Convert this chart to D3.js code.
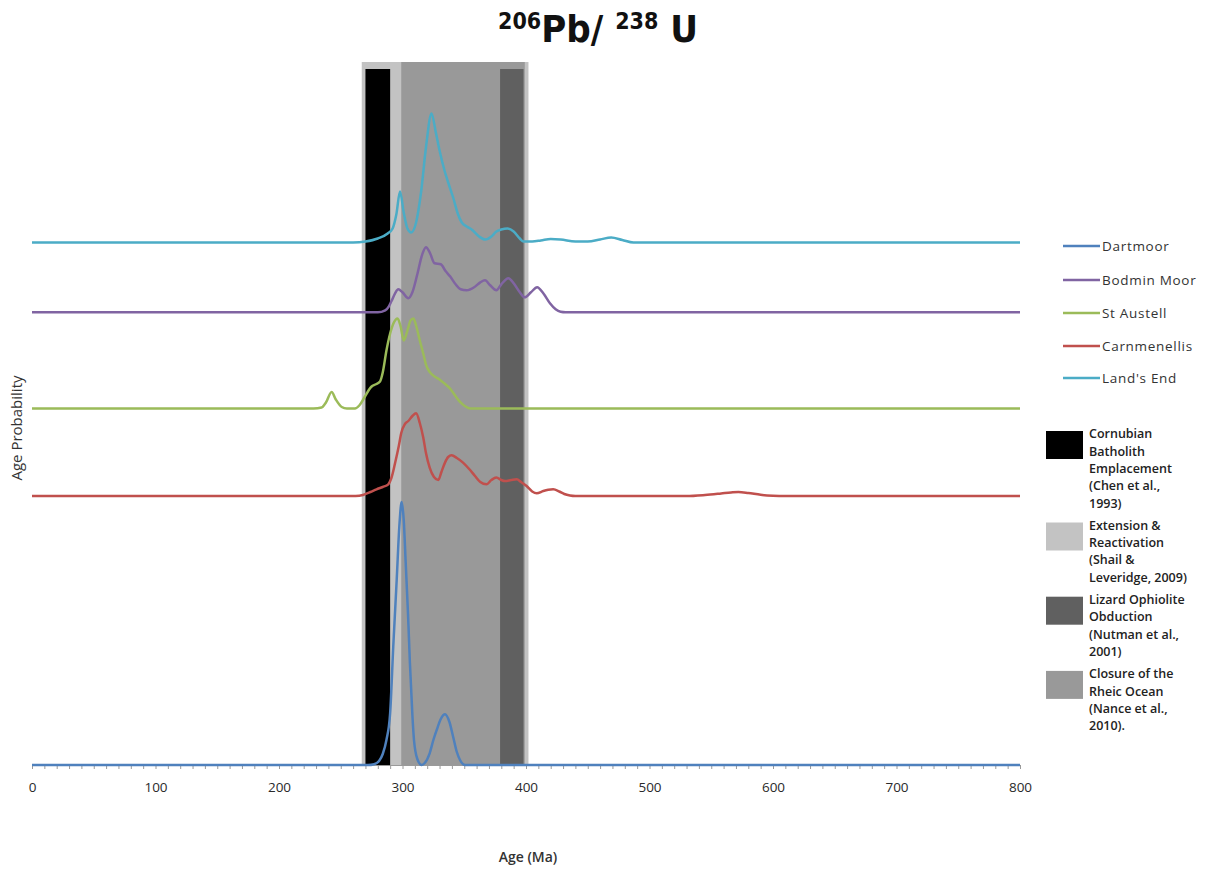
<!DOCTYPE html>
<html><head><meta charset="utf-8">
<script src="https://cdn.jsdelivr.net/npm/d3@7"></script>
<style>body{margin:0;background:#fff} svg{display:block}</style>
</head><body><svg id="c" width="1212" height="869"></svg>
<script>
// ---- data ----
const seriesNames = ["Dartmoor", "Bodmin Moor", "St Austell", "Carnmenellis", "Land's End"];
const seriesColors = ["#4f81bd", "#8064a2", "#9bbb59", "#c0504d", "#4bacc6"];
const seriesOffsets = [0, 45.27, 35.65, 26.9, 52.25];

const dartmoor = [[0,0],[272,0],[277,0.08],[281,0.4],[284,1.1],[287,2.5],[290,5.2],[292.5,11.8],[295.3,18.5],[297.5,24],[299.3,26.3],[301,24.5],[302.6,20.2],[304.5,15],[306,10.2],[308,5],[309.3,2.5],[312,0.6],[315.5,0],[318,0.2],[322,1.17],[325,2.5],[327.7,3.5],[331,4.6],[334.4,5.07],[338,4.3],[341,2.83],[344,1.3],[346.6,0.5],[350.6,0],[800,0]];

const bodminMoor = [[0,0],[280,0],[286,0.2],[289,0.6],[291,1.1],[294,1.9],[296.6,2.3],[300,2.0],[304.7,1.4],[308,2.0],[312,3.8],[316,5.8],[319,6.5],[322,6.0],[326,4.9],[331,4.8],[335,4.1],[338.5,3.6],[343,2.8],[347,2.3],[352,2.2],[358,2.5],[363,3.0],[366.8,3.2],[371,2.7],[376,2.2],[380,2.8],[385.7,3.4],[390,2.9],[395,2.0],[399,1.5],[404,2.0],[409,2.5],[414,1.9],[419.4,0.9],[424,0.3],[428,0.05],[432,0],[800,0]];

const stAustell = [[0,0],[228,0],[234.5,0.1],[238,0.6],[242.6,1.66],[246,0.9],[250.8,0.15],[255,0],[261.5,0],[265,0.3],[269.6,1.2],[273,1.9],[275,2.2],[278,2.4],[281.8,2.7],[284,3.6],[287,5.8],[290,7.5],[293,8.6],[296,9.0],[298.5,8.2],[301,6.8],[304,7.8],[306.5,8.8],[308.8,9.0],[311,8.3],[314,6.8],[316.8,5.5],[319,4.4],[322,3.66],[326,3.2],[330,2.9],[334,2.5],[338.5,2.0],[342,1.4],[346.6,0.66],[351,0.2],[355,0],[800,0]];

const carnmenellis = [[0,0],[262,0],[268,0.1],[274,0.4],[279,0.67],[284,0.9],[288.5,1.17],[291,1.8],[294,3.3],[297,5.0],[299,6.3],[302,7.2],[304.7,7.5],[308,8.0],[311,8.27],[314,7.3],[316.8,5.84],[319,4.3],[322,2.84],[325.5,1.9],[329,1.6],[331.5,2.4],[334.4,3.34],[337,3.9],[339.8,4.07],[344,3.8],[349,3.34],[354,2.7],[358.7,2.0],[363,1.4],[368,1.17],[372,1.6],[376,1.84],[380,1.6],[383,1.5],[388,1.6],[392.5,1.67],[396,1.4],[400.5,1.0],[405,0.45],[408.7,0.27],[414,0.5],[418,0.62],[422,0.67],[427,0.45],[431,0.2],[435.6,0.05],[440,0],[530,0],[545,0.1],[558,0.25],[566,0.35],[572,0.4],[580,0.3],[590,0.12],[600,0.03],[610,0],[800,0]];

const landsEnd = [[0,0],[260,0],[270,0.1],[280,0.4],[288,0.9],[292,1.4],[295,2.8],[298,5.1],[301,3.0],[304,1.4],[307,1.0],[311,2.0],[315,5.0],[319,9.5],[323.5,12.9],[327,11.0],[330,9.2],[334,7.2],[337,6.0],[341,4.5],[345,2.8],[348,2.0],[352,1.6],[356,1.3],[362,0.6],[367,0.3],[372,0.6],[376,1.1],[380,1.3],[385,1.4],[390,1.1],[395,0.4],[398,0.1],[405,0.1],[412,0.2],[420,0.35],[428,0.3],[440,0.1],[450,0.1],[460,0.3],[469,0.5],[478,0.25],[487,0],[800,0]];

const seriesData = [dartmoor, bodminMoor, stAustell, carnmenellis, landsEnd];

const bandNames = [
  ["Cornubian","Batholith","Emplacement","(Chen et al.,","1993)"],
  ["Extension &","Reactivation","(Shail &","Leveridge, 2009)"],
  ["Lizard Ophiolite","Obduction","(Nutman et al.,","2001)"],
  ["Closure of the","Rheic Ocean","(Nance et al.,","2010)."]
];
const bandRanges = [[270,290],[267,402],[379,398],[299,399]];
const bandTops = [69.6, 70.3, 69.6, 70.3];
const bandColors = ["#000000", "#c3c3c3", "#606060", "#999999"];
const bandDrawOrder = [1, 3, 0, 2];

const xTickLabels = [0,100,200,300,400,500,600,700,800];
const xMinorTicks = d3.range(0, 801, 10);

// ---- drawing ----
const svg = d3.select("#c");
const x = d3.scaleLinear().domain([0, 800]).range([32, 1020]);
const y = d3.scaleLinear().domain([0, 70]).range([765, 65]);
const FONT = "'Open Sans', 'Noto Sans', sans-serif";

// bands
svg.append("g").selectAll("rect").data(bandDrawOrder).join("rect")
  .attr("x", i => x(bandRanges[i][0]))
  .attr("width", i => x(bandRanges[i][1]) - x(bandRanges[i][0]))
  .attr("y", i => y(bandTops[i]))
  .attr("height", i => y(0) - y(bandTops[i]))
  .attr("fill", i => bandColors[i]);

// axis
const ax = svg.append("g").attr("transform", `translate(0,${y(0)})`);
ax.call(d3.axisBottom(x).tickValues(xMinorTicks).tickSize(4).tickFormat(""));
ax.select(".domain").attr("stroke", "#9a9a9a").attr("stroke-width", 1);
ax.selectAll(".tick line").attr("stroke", "#9a9a9a");
const ax2 = svg.append("g").attr("transform", `translate(0,${y(0)})`);
ax2.call(d3.axisBottom(x).tickValues(xTickLabels).tickSize(0).tickPadding(17).tickFormat(d3.format("d")));
ax2.select(".domain").remove();
ax2.selectAll("text").attr("font-family", FONT).attr("font-size", 13.5).attr("fill", "#2a2a2a");

// series
const line = off => d3.line().x(d => x(d[0])).y(d => y(d[1] + off)).curve(d3.curveMonotoneX);
const drawOrder = [4, 1, 2, 3, 0];
svg.append("g").selectAll("path").data(drawOrder).join("path")
  .attr("d", i => line(seriesOffsets[i])(seriesData[i]))
  .attr("fill", "none")
  .attr("stroke", i => seriesColors[i])
  .attr("stroke-width", 2.5)
  .attr("stroke-linejoin", "round");

// title
const title = svg.append("text").attr("x", 598).attr("y", 42).attr("text-anchor", "middle")
  .attr("font-family", "'DejaVu Sans', sans-serif").attr("font-stretch", "condensed")
  .style("font-stretch", "condensed")
  .attr("font-weight", "bold").attr("fill", "#111");
title.append("tspan").attr("font-size", 23).attr("dy", -13).text("206");
title.append("tspan").attr("font-size", 38).attr("dy", 13).text("Pb/ ");
title.append("tspan").attr("font-size", 23).attr("dy", -13).text("238");
title.append("tspan").attr("font-size", 38).attr("dy", 13).text(" U");

// axis titles
svg.append("text").attr("transform", "translate(22,428) rotate(-90)").attr("text-anchor", "middle")
  .attr("font-family", FONT).attr("font-size", 15).attr("font-weight", 500).attr("fill", "#333").text("Age Probability");
svg.append("text").attr("x", 528).attr("y", 862).attr("text-anchor", "middle")
  .attr("font-family", FONT).attr("font-size", 14).attr("font-weight", 600).attr("fill", "#333").text("Age (Ma)");

// series legend
const legY = [246, 280, 313, 346, 378];
const lg = svg.append("g").selectAll("g").data(seriesNames).join("g")
  .attr("transform", (d, i) => `translate(0,${legY[i]})`);
lg.append("line").attr("x1", 1063).attr("x2", 1100).attr("stroke", (d, i) => seriesColors[i]).attr("stroke-width", 2.5);
lg.append("text").attr("x", 1102).attr("dy", "0.35em").attr("font-family", FONT).attr("font-size", 13.5)
  .attr("fill", "#333").attr("letter-spacing", 0.7).text(d => d);

// band legend
const lineH = 17.3;
let start = 434;
bandNames.forEach((lines, i) => {
  const g = svg.append("g");
  g.append("rect").attr("x", 1046).attr("y", start - 3).attr("width", 37).attr("height", 28).attr("fill", bandColors[i]);
  g.selectAll("text").data(lines).join("text")
    .attr("x", 1089).attr("y", (d, k) => start + k * lineH).attr("dy", "0.35em")
    .attr("font-family", FONT).attr("font-size", 12.5).attr("font-weight", 600).attr("fill", "#222")
    .text(d => d);
  start += lines.length * lineH + 5;
});
</script></body></html>
